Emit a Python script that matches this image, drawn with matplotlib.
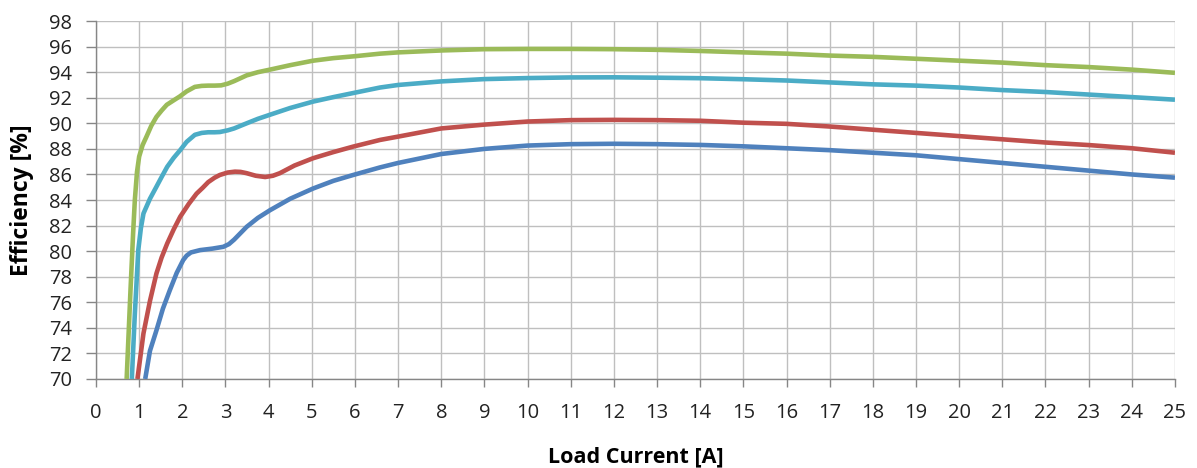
import matplotlib
matplotlib.use("Agg")
import matplotlib.pyplot as plt

# Load current [A] and efficiency [%] per curve
green_x = [0.71, 0.80, 0.86, 0.90, 0.95, 1.00, 1.08, 1.17, 1.28, 1.40, 1.52, 1.64, 1.80, 1.94, 2.10,
           2.29, 2.45, 2.60, 2.75, 2.90, 3.05, 3.20, 3.49, 3.75, 4.03, 4.50, 5.03, 5.50, 6.00, 6.58,
           7, 8, 9, 10, 11, 12, 13, 14, 15, 16, 17, 18, 19, 20, 21, 22, 23, 24, 25]
green_y = [70.0, 77.0, 81.4, 84.0, 86.2, 87.4, 88.3, 88.96, 89.8, 90.5, 91.0, 91.45, 91.8, 92.1, 92.5,
           92.85, 92.93, 92.95, 92.95, 92.97, 93.1, 93.3, 93.75, 94.0, 94.2, 94.55, 94.9, 95.1, 95.25,
           95.45, 95.55, 95.7, 95.8, 95.82, 95.82, 95.8, 95.75, 95.66, 95.55, 95.45, 95.3, 95.2, 95.05,
           94.9, 94.75, 94.55, 94.4, 94.2, 93.95]

cyan_x = [0.83, 0.90, 0.98, 1.04, 1.10, 1.25, 1.40, 1.52, 1.65, 1.80, 1.95, 2.10, 2.29, 2.45, 2.60,
          2.75, 2.87, 3.05, 3.20, 3.49, 3.75, 4.03, 4.50, 5.03, 5.50, 5.96, 6.58, 7, 8, 9, 10, 11, 12,
          13, 14, 15, 16, 17, 18, 19, 20, 21, 22, 23, 24, 25]
cyan_y = [70.0, 75.1, 80.1, 81.8, 82.95, 84.1, 85.04, 85.8, 86.6, 87.3, 87.9, 88.55, 89.1, 89.25, 89.3,
          89.3, 89.32, 89.45, 89.6, 90.0, 90.35, 90.67, 91.2, 91.7, 92.05, 92.37, 92.8, 93.0, 93.28,
          93.46, 93.54, 93.59, 93.6, 93.57, 93.53, 93.45, 93.35, 93.2, 93.05, 92.95, 92.8, 92.6, 92.45,
          92.25, 92.05, 91.85]

red_x = [0.96, 1.10, 1.25, 1.40, 1.52, 1.65, 1.80, 1.95, 2.15, 2.33, 2.47, 2.60, 2.75, 2.87, 3.05,
         3.22, 3.35, 3.49, 3.70, 3.92, 4.10, 4.26, 4.60, 5.03, 5.50, 5.96, 6.58, 7, 8, 9, 10, 11, 12,
         13, 14, 15, 16, 17, 18, 19, 20, 21, 22, 23, 24, 25]
red_y = [70.0, 73.57, 76.1, 78.25, 79.5, 80.6, 81.7, 82.69, 83.7, 84.5, 84.95, 85.4, 85.75, 85.96,
         86.15, 86.22, 86.2, 86.1, 85.9, 85.8, 85.9, 86.1, 86.7, 87.27, 87.75, 88.18, 88.7, 88.96, 89.6,
         89.9, 90.14, 90.25, 90.27, 90.25, 90.2, 90.05, 89.96, 89.75, 89.5, 89.25, 89.0, 88.75, 88.5,
         88.3, 88.05, 87.7]

blue_x = [1.14, 1.25, 1.40, 1.55, 1.71, 1.87, 2.02, 2.10, 2.20, 2.41, 2.70, 2.95, 3.08, 3.20, 3.49,
          3.75, 4.03, 4.50, 5.03, 5.50, 5.96, 6.58, 7, 8, 9, 10, 11, 12, 13, 14, 15, 16, 17, 18, 19,
          20, 21, 22, 23, 24, 25]
blue_y = [70.0, 72.2, 73.8, 75.5, 76.94, 78.3, 79.3, 79.65, 79.9, 80.08, 80.2, 80.34, 80.55, 80.9,
          81.9, 82.6, 83.2, 84.1, 84.9, 85.5, 85.96, 86.55, 86.9, 87.6, 88.0, 88.26, 88.37, 88.4, 88.37,
          88.31, 88.2, 88.05, 87.9, 87.7, 87.5, 87.2, 86.9, 86.6, 86.3, 86.0, 85.75]

x_ticks = list(range(0, 26))
y_ticks = list(range(70, 99, 2))

plt.rcParams['font.family'] = ['Open Sans', 'DejaVu Sans']

fig = plt.figure(figsize=(11.97, 4.68), dpi=100)
ax = fig.add_axes([0.0802, 0.1902, 0.9014, 0.7648])

series = [
    (blue_x, blue_y, '#4F81BD'),
    (red_x, red_y, '#C0504D'),
    (green_x, green_y, '#9BBB59'),
    (cyan_x, cyan_y, '#4BACC6'),
]
for xs, ys, col in series:
    ax.plot(xs, ys, color=col, lw=3.3, solid_capstyle='butt', solid_joinstyle='round', zorder=3)

ax.set_xlim(0, 25)
ax.set_ylim(70, 98)
ax.set_xticks(x_ticks)
ax.set_yticks(y_ticks)
ax.grid(True, color='#BFBFBF', lw=1.0, zorder=0)
ax.set_axisbelow(True)

for side in ['top', 'right']:
    ax.spines[side].set_visible(False)
for side in ['left', 'bottom']:
    ax.spines[side].set_color('#868686')
    ax.spines[side].set_linewidth(1.0)

ax.tick_params(axis='y', length=7, width=1.0, color='#868686', pad=10, labelsize=14.5, labelcolor='#222222')
ax.tick_params(axis='x', length=6, width=1.0, color='#868686', pad=11, labelsize=14.5, labelcolor='#222222')

ax.set_xlabel("Load Current [A]", fontsize=15.5, fontweight='bold', labelpad=17)
ax.set_ylabel("Efficiency [%]", fontsize=16.5, fontweight='bold', labelpad=11)

fig.savefig("out.png", dpi=100)
